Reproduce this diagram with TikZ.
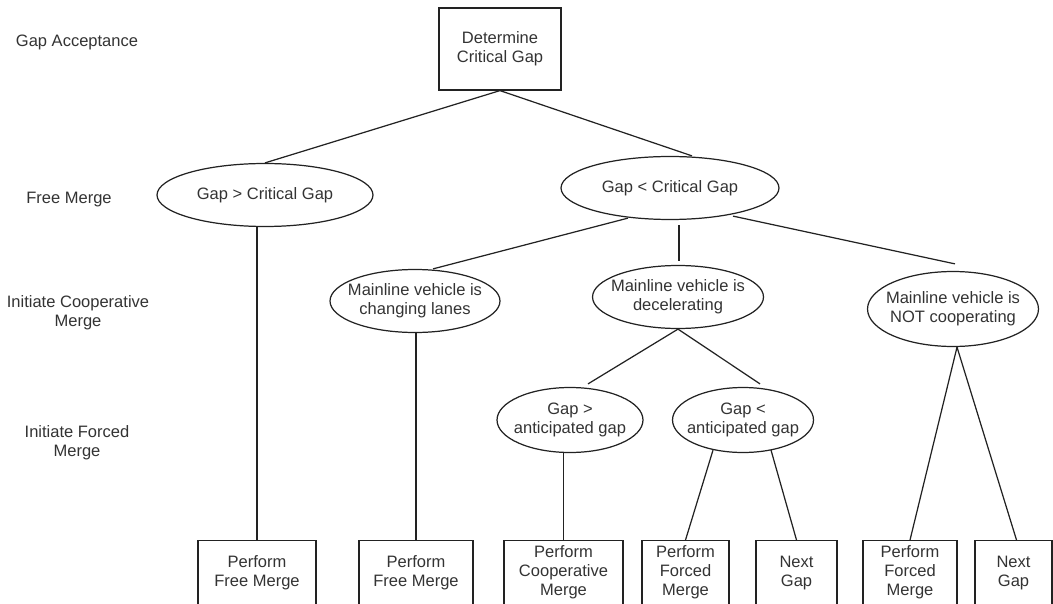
\documentclass[tikz,border=0pt]{standalone}
\usepackage{fontspec}
\setmainfont{Liberation Sans}
\usetikzlibrary{shapes.geometric, calc}
\definecolor{gaInk}{HTML}{222222}
\definecolor{gaText}{HTML}{333333}
\newcommand{\gafont}{\fontsize{9.4}{10.8}\selectfont}
\tikzset{
  stage/.style={
    draw=gaInk, line width=0.7pt, rectangle,
    inner sep=0pt, align=center,
    font=\gafont, text=gaText
  },
  cond/.style={stage, ellipse, inner xsep=-2mm},
  outbox/.style={stage, anchor=north, minimum height=1.28cm},
  lvl/.style={font=\gafont, text=gaText, align=center, inner sep=0pt},
  link/.style={line width=0.7pt, draw=gaInk},
}

\begin{document}
\begin{tikzpicture}[x=0.02cm, y=-0.02cm]
  \useasboundingbox (0,0) rectangle (1053,604);

  \node[lvl] (lvA) at (77,42)  {Gap Acceptance};
  \node[lvl] (lvF) at (69,200) {Free Merge};
  \node[lvl] (lvC) at (78,313) {Initiate Cooperative\\Merge};
  \node[lvl] (lvG) at (77,443) {Initiate Forced\\Merge};

  \node[stage, minimum width=2.44cm, minimum height=1.64cm] (top) at (500,49) {Determine\\Critical Gap};

  \node[cond, minimum width=4.32cm, minimum height=1.26cm] (lgt) at (265,195) {Gap > Critical Gap};
  \node[cond, minimum width=4.36cm, minimum height=1.26cm] (rgt) at (670,188) {Gap < Critical Gap};

  \node[cond, minimum width=3.4cm,  minimum height=1.26cm] (chg)  at (415,301) {Mainline vehicle is\\changing lanes};
  \node[cond, minimum width=3.42cm, minimum height=1.26cm] (dec)  at (678,297) {Mainline vehicle is\\decelerating};
  \node[cond, minimum width=3.42cm, minimum height=1.5cm]  (notc) at (953,309) {Mainline vehicle is\\NOT cooperating};

  \node[cond, minimum width=2.92cm, minimum height=1.3cm] (agt) at (570,420) {Gap >\\anticipated gap};
  \node[cond, minimum width=2.82cm, minimum height=1.3cm] (alt) at (743,420) {Gap <\\anticipated gap};

  \node[outbox, minimum width=2.36cm] (b1) at (257,540)    {Perform\\Free Merge};
  \node[outbox, minimum width=2.28cm] (b2) at (416,540)    {Perform\\Free Merge};
  \node[outbox, minimum width=2.38cm] (b3) at (563.5,540)  {Perform\\Cooperative\\Merge};
  \node[outbox, minimum width=1.74cm] (b4) at (685.5,540)  {Perform\\Forced\\Merge};
  \node[outbox, minimum width=1.62cm] (b5) at (796.5,540)  {Next\\Gap};
  \node[outbox, minimum width=1.88cm] (b6) at (910,540)    {Perform\\Forced\\Merge};
  \node[outbox, minimum width=1.54cm] (b7) at (1013.5,540) {Next\\Gap};

  \draw[link] (top.south) -- (lgt.north);
  \draw[link] (top.south) -- ($(rgt.north)+(22,0)$);
  \draw[link] (lgt.south -| b1.north) -- (b1.north);
  \draw[link] ($(rgt.south)+(-42,-2)$) -- ($(chg.north)+(18,0)$);
  \draw[link] ($(rgt.south)+(9,5)$) -- ($(dec.north)+(1,-4)$);
  \draw[link] ($(rgt.south)+(63,-4)$) -- ($(notc.north)+(2,-7)$);
  \draw[link] (chg.south -| b2.north) -- (b2.north);
  \draw[link] (dec.south) -- ($(agt.north)+(18,-3)$);
  \draw[link] (dec.south) -- ($(alt.north)+(17,-3)$);
  \draw[link] (agt.south -| b3.north) -- (b3.north);
  \draw[link] ($(alt.south)+(-30,-3)$) -- (b4.north);
  \draw[link] ($(alt.south)+(28,-3)$) -- (b5.north);
  \draw[link] ($(notc.south)+(4,0)$) -- (b6.north);
  \draw[link] ($(notc.south)+(4,0)$) -- ($(b7.north)+(3,0)$);
\end{tikzpicture}
\end{document}
